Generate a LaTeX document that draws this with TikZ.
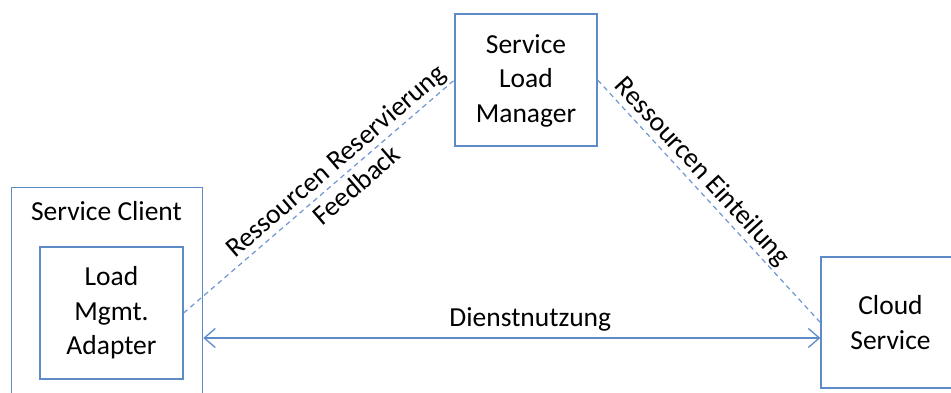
\documentclass[tikz,border=0pt]{standalone}
\usepackage{fontspec}
\setmainfont{Carlito}
\usetikzlibrary{arrows.meta}
\definecolor{boxblue}{RGB}{95,138,200}
\definecolor{linkblue}{RGB}{110,150,210}
\begin{document}
\begin{tikzpicture}[x=1pt,y=-1pt,
  every node/.style={font=\fontsize{27.5}{34.5}\selectfont, text=black},
  box/.style={draw=boxblue, line width=1.3pt, rectangle, align=center, inner sep=0pt},
  dashlink/.style={draw=linkblue, line width=1.2pt, dash pattern=on 5pt off 4pt},
  usage/.style={draw=boxblue, line width=1.3pt, {Straight Barb[length=11pt,width=19pt]}-{Straight Barb[length=11pt,width=19pt]}}
]
\useasboundingbox (0,0) rectangle (951,393);
\begin{scope}
\clip (0,0) rectangle (951,393);
% service client with its embedded adapter
\node[box, anchor=north west, minimum width=191pt, minimum height=225pt] (client) at (11,187) {};
\node (clientlabel) at (106.5,211) {Service Client};
\node[box, minimum width=143pt, minimum height=132pt] (adapter) at (111.5,313) {Load\\Mgmt.\\Adapter};
% load manager and cloud service
\node[box, minimum width=142pt, minimum height=132pt, text depth=3pt] (slm) at (526,80) {Service\\Load\\Manager};
\node[box, minimum width=139pt, minimum height=131pt] (cloud) at (890.5,322.5) {Cloud\\Service};
% connectors
\coordinate (usagey) at (0,338);
\draw[usage] (client.east |- usagey) -- node[above, pos=0.53, inner sep=6pt] (lblusage) {Dienstnutzung} (cloud.west |- usagey);
\draw[dashlink] (adapter.east) -- node[sloped, above, pos=0.6, inner sep=2pt] (lblres) {Ressourcen Reservierung}
  node[sloped, below, pos=0.6, inner sep=5pt] (lblfb) {Feedback} (slm.west);
\draw[dashlink] (slm.east) -- node[sloped, above, pos=0.42, inner sep=2pt] (lblein) {Ressourcen Einteilung} (cloud.west);
\end{scope}
\end{tikzpicture}
\end{document}
